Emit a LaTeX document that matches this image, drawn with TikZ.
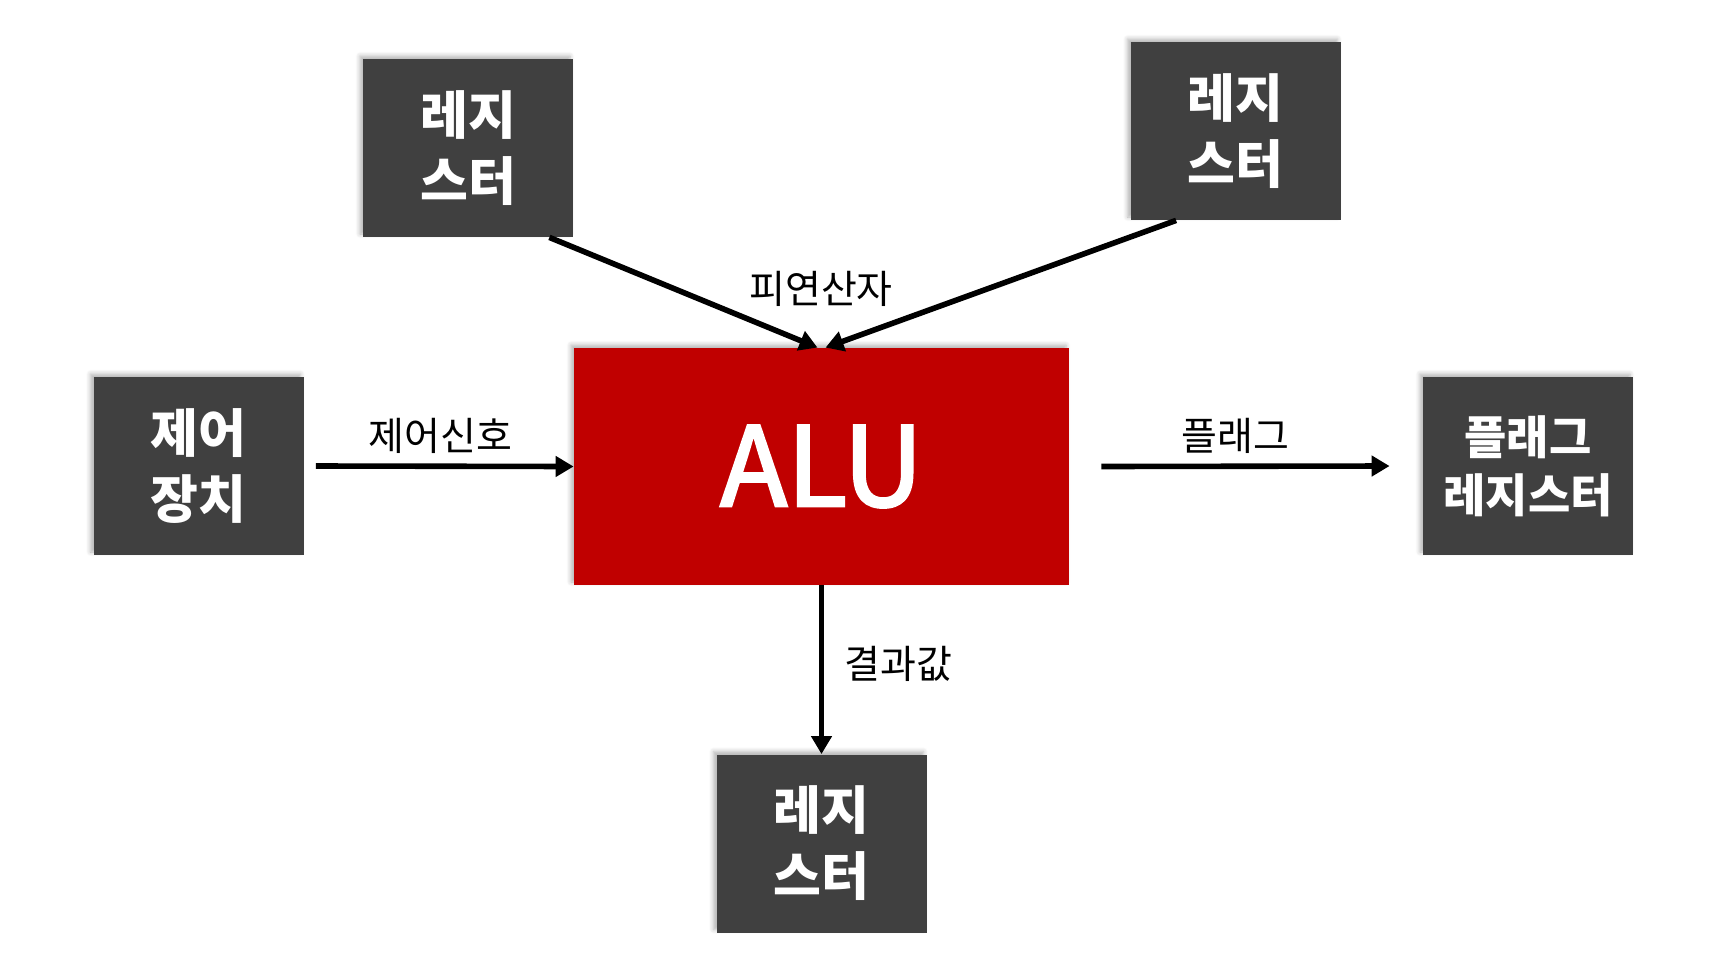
\documentclass[tikz,border=0pt]{standalone}
\usepackage{fontspec}
\setmainfont{Noto Sans CJK KR}
\newfontfamily\alufont{Noto Sans CJK KR}[FakeBold=2.5]
\usepackage{tikz}
\usetikzlibrary{arrows.meta, positioning, shadows.blur}
\definecolor{BoxGray}{HTML}{404040}
\definecolor{AluRed}{HTML}{C00000}

\begin{document}
\begin{tikzpicture}[
    x=0.5pt, y=-0.5pt,
    block/.style={rectangle, fill=BoxGray, text=white, minimum width=105pt, minimum height=89pt, align=center,
        font=\fontsize{26}{33}\selectfont\bfseries, inner sep=0pt,
        blur shadow={shadow xshift=-1.5pt, shadow yshift=1.5pt, shadow blur steps=6, shadow opacity=30}},
    alublock/.style={block, fill=AluRed, minimum width=247.5pt, minimum height=118.5pt, font=\alufont\fontsize{55}{62}\selectfont},
    arrow/.style={-{Triangle[length=9pt, width=10pt]}, line width=2.8pt},
    label/.style={font=\fontsize{19.5}{22}\selectfont, inner sep=0pt}
]
\useasboundingbox (0,0) rectangle (1721,954);

% ALU (center)
\node[alublock] (alu) at (821.5,466.5) {ALU};

% Registers and units around it
\node[block] (regTL) at (468,148) {레지\\스터};
\node[block] (regTR) at (1235.5,131) {레지\\스터};
\node[block] (ctrl) at (198.5,466) {제어\\장치};
\node[block, font=\fontsize{23}{29}\selectfont\bfseries] (flag) at (1528,466) {플래그\\레지스터};
\node[block] (regB) at (821.5,843.5) {레지\\스터};

% Operands
\draw[arrow] ([xshift=-12pt]regTL.south east) -- ([xshift=-2pt]alu.north);
\draw[arrow] ([xshift=23pt]regTR.south west) -- ([xshift=2pt]alu.north);
\node[label] (operand) at (821,289) {피연산자};

% Control signal
\draw[arrow] ([xshift=6pt]ctrl.east) -- node[label, above=5pt, xshift=-2pt] (ctrlsig) {제어신호} (alu.west);

% Flags
\draw[arrow] ([xshift=16pt]alu.east) -- node[label, above=5pt, xshift=-5pt] (flagsig) {플래그} ([xshift=-16.5pt]flag.west);

% Result
\draw[arrow] (alu.south) -- node[label, right=10pt, yshift=3pt] (result) {결과값} (regB.north);
\end{tikzpicture}
\end{document}
